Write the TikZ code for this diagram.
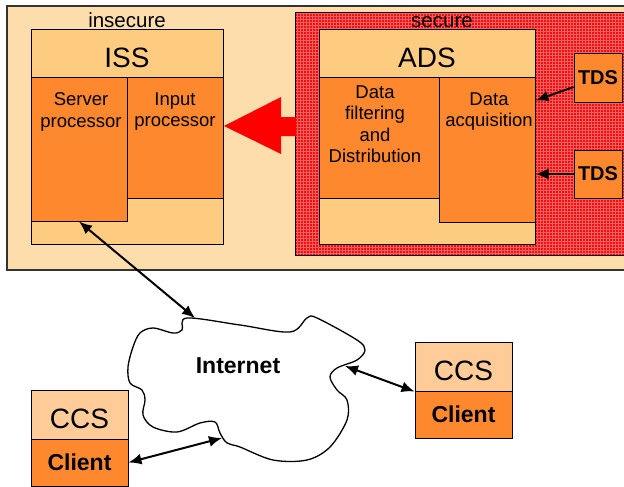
\documentclass[tikz,border=0pt]{standalone}
\usepackage{fontspec}
\setmainfont{Liberation Sans}
\usetikzlibrary{arrows.meta,patterns,positioning}

\definecolor{insecurebg}{RGB}{253,221,171}
\definecolor{headbg}{RGB}{254,204,128}
\definecolor{procbg}{RGB}{254,136,46}
\definecolor{ccsbg}{RGB}{255,204,153}
\definecolor{securered}{RGB}{236,16,16}
\definecolor{gridpink}{RGB}{255,95,95}

\begin{document}
\begin{tikzpicture}[x=1pt,y=-1pt,
  box/.style={shape=rectangle,draw=black,line width=1pt,inner sep=0pt},
  head/.style={box,fill=headbg,font=\fontsize{28}{30}\selectfont,text height=27pt,text depth=0pt},
  proc/.style={box,fill=procbg},
  txt/.style={inner sep=0pt,align=center,font=\fontsize{18.5}{21.5}\selectfont},
  tds/.style={box,fill=procbg,minimum width=48pt,minimum height=48pt,font=\bfseries\fontsize{20}{22}\selectfont},
  ccs/.style={box,fill=ccsbg,minimum width=97pt,minimum height=49pt,font=\fontsize{28}{30}\selectfont,text height=27pt,text depth=0pt},
  client/.style={box,fill=procbg,minimum width=97pt,minimum height=47pt,font=\bfseries\fontsize{23}{25}\selectfont},
  arr/.style={line width=2pt,>={Latex[length=13pt,width=11pt]}}]
 \useasboundingbox (0,0) rectangle (624,487);
 % zones
 \draw[fill=insecurebg,draw=black!80,line width=1.2pt] (7,6) rectangle (630,270);
 \fill[securered] (295,13) rectangle (630,255);
 \fill[pattern=grid,pattern color=gridpink] (295,13) rectangle (630,255);
 \draw[line width=1pt] (295,13) rectangle (630,255);
 \node (lbl insecure) at (127,28) [anchor=base,inner sep=0pt,font=\fontsize{20.5}{24}\selectfont] {insecure};
 \node (lbl secure) at (442,28) [anchor=base,inner sep=0pt,font=\fontsize{20.5}{24}\selectfont] {secure};
 % ISS
 \node (iss) at (127,137) [box,fill=headbg,minimum width=192pt,minimum height=214pt] {};
 \node (iss head) at (127,54) [head,minimum width=192pt,minimum height=48pt] {ISS};
 \node (srv) at (79,149.5) [proc,minimum width=96pt,minimum height=143pt] {};
 \node (inp) at (175,138) [proc,minimum width=96pt,minimum height=120pt] {};
 \node (srv txt) [below=15pt of srv.north,xshift=2pt,txt] {Server\\processor};
 \node (inp txt) [below=15pt of inp.north,txt] {Input\\processor};
 % ADS
 \node (ads) at (427,137) [box,fill=headbg,minimum width=216pt,minimum height=214pt] {};
 \node (ads head) at (427,54) [head,minimum width=216pt,minimum height=48pt] {ADS};
 \node (filt) at (379,138) [proc,minimum width=120pt,minimum height=120pt] {};
 \node (acq) at (487,150) [proc,minimum width=96pt,minimum height=144pt] {};
 \node (filt txt) [below=8pt of filt.north,xshift=-4pt,txt] {Data\\filtering\\and\\Distribution};
 \node (acq txt) [below=15pt of acq.north,xshift=2pt,txt] {Data\\acquisition};
 \node (tds1) at (598,78) [tds] {TDS};
 \node (tds2) at (598,174) [tds] {TDS};
 % flow to the insecure side
 \fill[red] (224,126) -- (281,97) -- (281,117) -- (296,117) -- (296,136) -- (281,136) -- (281,154) -- cycle;
 % internet
 \draw[line width=1.3pt,fill=white] plot[smooth cycle,tension=0.55] coordinates {
  (187,318) (240,325) (290,332) (307,318) (317,318) (357,340) (365,350) (357,360)
  (337,368) (330,377) (337,390) (347,400) (347,420) (330,447) (307,460) (273,460)
  (240,447) (227,443) (220,433) (215,422) (200,423) (177,432) (153,427) (143,415)
  (145,400) (142,390) (130,383) (128,367) (133,347) (140,333) (153,328) (173,333) (182,330)};
 \node (net) at (238,365.5) [inner sep=0pt,font=\bfseries\fontsize{23}{25}\selectfont] {Internet};
 \coordinate (net top) at (195,318);
 \coordinate (net btm) at (222,438);
 \coordinate (net rgt) at (345,366);
 % clients
 \node (ccs1) at (79.5,414.5) [ccs] {CCS};
 \node (cl1) at (79.5,462.5) [client] {Client};
 \node (ccs2) at (463.5,366.5) [ccs] {CCS};
 \node (cl2) at (463.5,414.5) [client] {Client};
 % links
 \draw[arr,<->] (srv.south) -- (net top);
 \draw[arr,<->] (cl1.east) -- (net btm);
 \draw[arr,<->] (net rgt) -- (ccs2.south west);
 \draw[arr,->] ([yshift=-9pt]tds1.west) -- ([yshift=-23pt]acq.north east);
 \draw[arr,->] (tds2.west) -- (tds2.west -| acq.east);
\end{tikzpicture}
\end{document}
